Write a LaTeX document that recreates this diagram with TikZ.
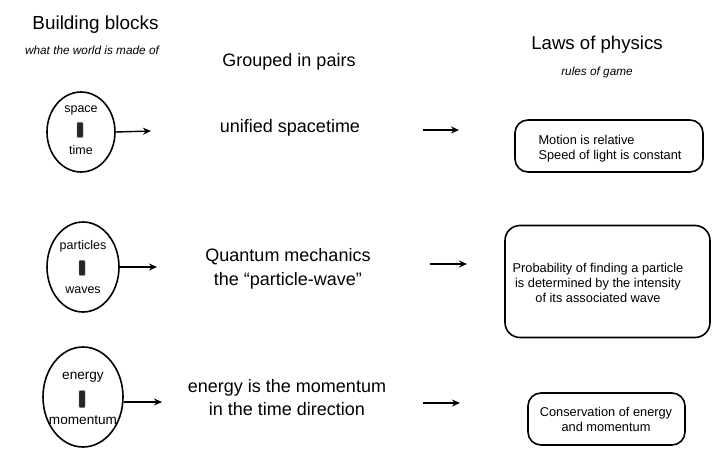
\documentclass[tikz,border=0pt]{standalone}
\usepackage{fontspec}
\setmainfont{Liberation Sans}
\usetikzlibrary{arrows.meta,shapes.geometric}
\begin{document}
\begin{tikzpicture}[x=1pt,y=-1pt,
  big/.style={font=\fontsize{18}{23}\selectfont},
  sub/.style={font=\fontsize{11.8}{14}\itshape},
  small/.style={font=\fontsize{12.5}{15}\selectfont},
  law/.style={font=\fontsize{12.8}{15}\selectfont},
  oval/.style={draw,line width=1.6pt,ellipse,inner sep=0pt},
  lawbox/.style={draw,line width=1.6pt,rounded corners=13pt,inner sep=0pt},
  blob/.style={fill=black!85,draw=black!60,line width=0.4pt,rounded corners=1pt,minimum width=6pt,minimum height=15pt,inner sep=0pt},
  arr/.style={line width=1.4pt,-{Stealth[length=8pt,width=7pt]}}]
\useasboundingbox (0,0) rectangle (723,462);
% headings
\node[big,font=\fontsize{18.9}{22}\selectfont] (hb) at (95.5,25) {Building blocks};
\node[sub] (hbs) at (92,50) {what the world is made of};
\node[big] (hg) at (289,62) {Grouped in pairs};
\node[big,font=\fontsize{18.6}{22}\selectfont] (hl) at (597,45) {Laws of physics};
\node[sub] (hls) at (597,72) {rules of game};
% ellipses
\node[oval,minimum width=68pt,minimum height=80pt] (e1) at (81,132) {};
\node[oval,minimum width=72pt,minimum height=90pt] (e2) at (83,267) {};
\node[oval,minimum width=80pt,minimum height=100pt] (e3) at (83,397) {};
\node[small] (t1a) at (81,110) {space};
\node[blob] (b1) at (80,130) {};
\node[small] (t1b) at (81,150) {time};
\node[small] (t2a) at (83,246) {particles};
\node[blob] (b2) at (82,268) {};
\node[small] (t2b) at (83,290) {waves};
\node[small,font=\fontsize{13.6}{16}\selectfont] (t3a) at (83,377) {energy};
\node[blob,minimum height=17pt] (b3) at (82,399) {};
\node[small,font=\fontsize{13.6}{16}\selectfont] (t3b) at (83,420) {momentum};
% arrows out of ellipses
\coordinate (a1) at (151,131);
\coordinate (a2) at (157,267);
\coordinate (a3) at (162,402);
\draw[arr] (e1.east) -- (a1);
\draw[arr] (e2.east |- a2) -- (a2);
\draw[arr] (e3.east |- a3) -- (a3);
% middle texts
\node[big] (m1) at (290,128) {unified spacetime};
\node[big,align=center,font=\fontsize{18}{24}\selectfont] (m2) at (288,269) {Quantum mechanics\\the “particle-wave”};
\node[big,align=center] (m3) at (287,398) {energy is the momentum\\in the time direction};
% middle arrows
\coordinate (s1) at (423,130);
\coordinate (f1) at (459,130);
\coordinate (s2) at (430,264);
\coordinate (f2) at (467,264);
\coordinate (s3) at (423,403);
\coordinate (f3) at (460,403);
\draw[arr] (s1) -- (f1);
\draw[arr] (s2) -- (f2);
\draw[arr] (s3) -- (f3);
% law boxes
\node[lawbox,minimum width=188pt,minimum height=52pt] (l1) at (609,146) {};
\node[law,align=left,anchor=west] (l1t) at (535,149) {Motion is relative\\Speed of light is constant};
\node[lawbox,rounded corners=15pt,minimum width=205pt,minimum height=112pt] (l2) at (607.5,281.5) {};
\node[law,align=center] (l2t) at (598,283) {Probability of finding a particle\\is determined by the intensity\\of its associated wave};
\node[lawbox,minimum width=157pt,minimum height=52pt] (l3) at (606.5,419) {};
\node[law,align=center] (l3t) at (606,419) {Conservation of energy\\and momentum};
\end{tikzpicture}
\end{document}
